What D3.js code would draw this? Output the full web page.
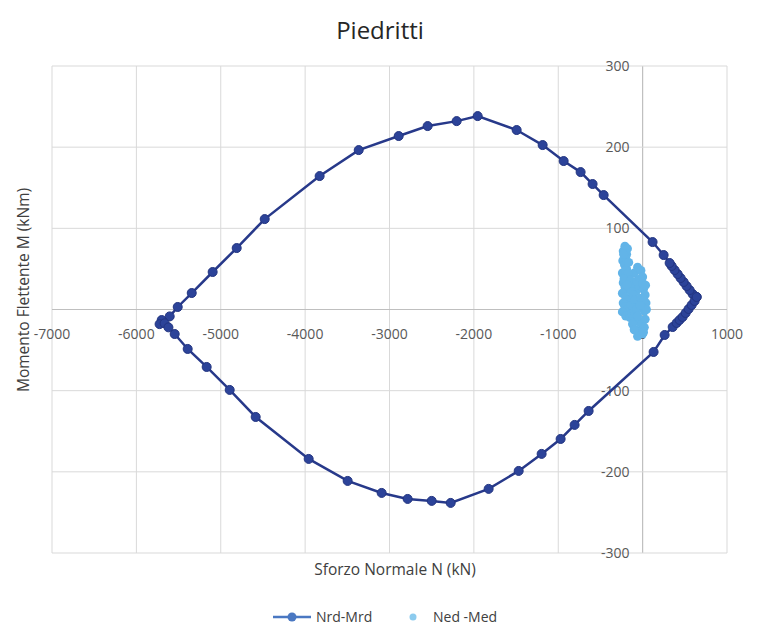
<!DOCTYPE html>
<html>
<head>
<meta charset="utf-8">
<script src="https://cdn.jsdelivr.net/npm/d3@7"></script>
<style>
  body { margin: 0; background: #fff; }
  text { font-family: "Open Sans", "Liberation Sans", sans-serif; }
</style>
</head>
<body>
<div id="chart"></div>
<script>
// domain / tick values
const xTicks = [-7000, -6000, -5000, -4000, -3000, -2000, -1000, 0, 1000];
const yTicks = [-300, -200, -100, 0, 100, 200, 300];

// Nrd-Mrd interaction domain (N kN, M kNm) - closed loop
const nrdN = [640, 593, 557, 521, 486, 450, 415, 379, 344, 320, 249, 118, -462, -593, -735, -936, -1185, -1493, -1955, -2204, -2548, -2891, -3365, -3828, -4479, -4811, -5096, -5344, -5510, -5605, -5700, -5725, -5665, -5620, -5546, -5392, -5167, -4894, -4586, -3958, -3496, -3093, -2785, -2500, -2275, -1825, -1469, -1197, -972, -806, -640, 130, 261, 356, 403, 438, 474, 510, 545, 581, 616, 640];
const nrdM = [15.4, 19.1, 24.0, 28.9, 33.9, 38.8, 43.7, 48.6, 53.6, 57.3, 67.1, 83.1, 141.0, 154.6, 169.3, 182.9, 202.6, 221.1, 238.3, 232.1, 226.0, 213.7, 196.4, 164.4, 111.4, 75.7, 46.2, 20.3, 3.1, -8.5, -13, -18, -17, -22, -30.2, -48.6, -70.8, -99.1, -132.4, -184.1, -211.2, -226.0, -233.4, -235.8, -238.3, -221.0, -198.9, -177.9, -159.5, -142.2, -125.0, -52.3, -31.4, -21.6, -16.6, -12.9, -9.2, -4.3, 0.6, 5.5, 10.5, 15.4];

// Ned-Med acting forces
const nedN = [-230, -210, -180, -200, -235, -215, -190, -240, -200, -170, -230, -210, -180, -240, -200, -160, -230, -210, -180, -240, -200, -150, -120, -100, -60, -20, 0, -80, -40, 10, 30, -60, 40, -20, 20, -90, -50, -10, 30, -80, -40, 0, 20, -120, -60,
  -190, -225, -165, -205, -175, -220, -145, -185, -130, -110, -140, -90, -70, -30, 0, 35, -110, -130, -100, -70, -20, 15, 45, -100, -60, -30, 10];
const nedM = [72, 78, 75, 65, 60, 55, 50, 45, 42, 38, 33, 28, 25, 20, 15, 12, 8, 3, 0, -3, -8, -10, 30, 45, 52, 48, 40, 22, 30, 25, 18, 10, 8, 5, -2, -12, -15, -18, -12, -25, -28, -30, -22, -18, -33,
  68, 68, 58, 48, 44, 38, 36, 30, 22, 18, 5, 12, 35, 38, 32, 30, 2, -5, -2, 0, 14, 12, 0, -25, -8, 5, -28];

const width = 758, height = 640;
const svg = d3.select("#chart").append("svg")
  .attr("width", width)
  .attr("height", height);

const x = d3.scaleLinear().domain([-7000, 1000]).range([52, 727]);
const y = d3.scaleLinear().domain([-300, 300]).range([553, 66]);

// title
svg.append("text")
  .attr("x", 380).attr("y", 39)
  .attr("text-anchor", "middle")
  .attr("font-size", 24)
  .attr("fill", "#262626")
  .text("Piedritti");

// gridlines
svg.append("g").selectAll("line")
  .data(xTicks)
  .join("line")
  .attr("x1", d => x(d)).attr("x2", d => x(d))
  .attr("y1", y(300)).attr("y2", y(-300))
  .attr("stroke", d => d === 0 ? "#bfbfbf" : "#d9d9d9")
  .attr("stroke-width", d => d === 0 ? 1.2 : 1);

svg.append("g").selectAll("line")
  .data(yTicks)
  .join("line")
  .attr("x1", x(-7000)).attr("x2", x(1000))
  .attr("y1", d => y(d)).attr("y2", d => y(d))
  .attr("stroke", d => d === 0 ? "#bfbfbf" : "#d9d9d9")
  .attr("stroke-width", d => d === 0 ? 1.2 : 1);

// tick labels
svg.append("g").selectAll("text")
  .data(xTicks)
  .join("text")
  .attr("x", d => x(d))
  .attr("y", y(0) + 29)
  .attr("text-anchor", "middle")
  .attr("font-size", 14)
  .attr("fill", "#595959")
  .text(d => d);

svg.append("g").selectAll("text")
  .data(yTicks)
  .join("text")
  .attr("x", x(0) - 13)
  .attr("y", d => y(d) + 5)
  .attr("text-anchor", "end")
  .attr("font-size", 14)
  .attr("fill", "#595959")
  .text(d => d);

// axis titles
svg.append("text")
  .attr("x", 395).attr("y", 575)
  .attr("text-anchor", "middle")
  .attr("font-size", 15.5)
  .attr("fill", "#404040")
  .text("Sforzo Normale N (kN)");

svg.append("text")
  .attr("transform", "translate(29,290) rotate(-90)")
  .attr("text-anchor", "middle")
  .attr("font-size", 15.5)
  .attr("fill", "#404040")
  .text("Momento Flettente M (kNm)");

// Ned-Med scatter
const ned = nedN.map((n, i) => ({ n: n, m: nedM[i] }));
svg.append("g").selectAll("circle")
  .data(ned)
  .join("circle")
  .attr("cx", d => x(d.n))
  .attr("cy", d => y(d.m))
  .attr("r", 4.5)
  .attr("fill", "#62b4e8");

// Nrd-Mrd domain
const nrd = nrdN.map((n, i) => ({ n: n, m: nrdM[i] }));
const line = d3.line().x(d => x(d.n)).y(d => y(d.m));
svg.append("path")
  .datum(nrd)
  .attr("d", line)
  .attr("fill", "none")
  .attr("stroke", "#27398a")
  .attr("stroke-width", 2.5);

svg.append("g").selectAll("circle")
  .data(nrd)
  .join("circle")
  .attr("cx", d => x(d.n))
  .attr("cy", d => y(d.m))
  .attr("r", 4.5)
  .attr("fill", "#2c4399")
  .attr("stroke", "#223480")
  .attr("stroke-width", 1);

// legend
const lg = svg.append("g").attr("transform", "translate(0,617)");
lg.append("line")
  .attr("x1", 273).attr("x2", 311)
  .attr("stroke", "#4a78c2").attr("stroke-width", 2.5);
lg.append("circle").attr("cx", 292).attr("r", 4.5).attr("fill", "#4a78c2");
lg.append("text").attr("x", 316).attr("y", 5)
  .attr("font-size", 14).attr("fill", "#404040").text("Nrd-Mrd");
lg.append("circle").attr("cx", 413).attr("r", 3.5).attr("fill", "#8ccbee");
lg.append("text").attr("x", 433).attr("y", 5)
  .attr("font-size", 14).attr("fill", "#404040").text("Ned -Med");
</script>
</body>
</html>
